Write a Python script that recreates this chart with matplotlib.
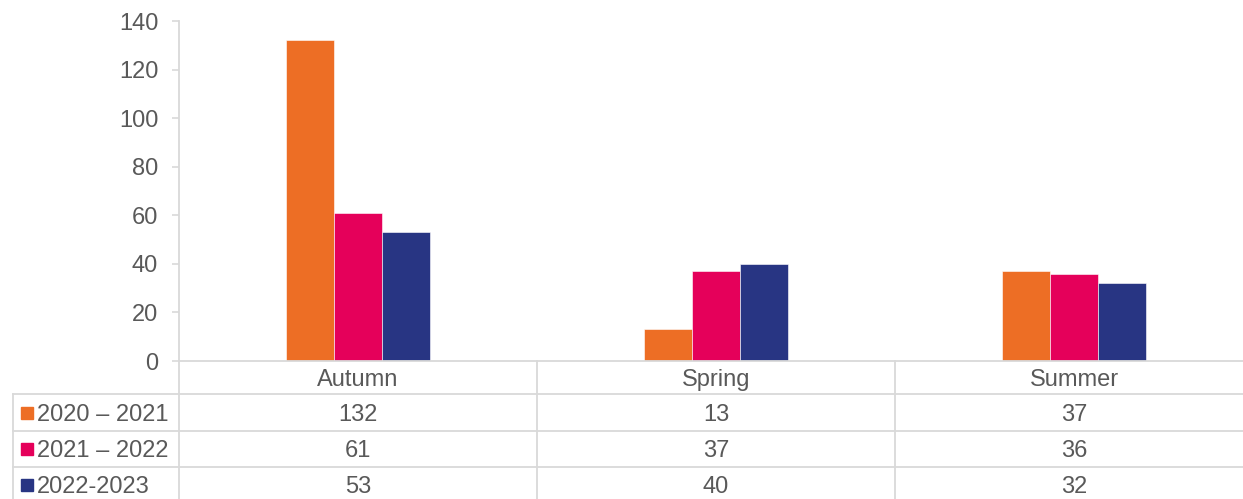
import numpy as np
import matplotlib.pyplot as plt
from matplotlib.patches import Rectangle
from matplotlib.lines import Line2D
from matplotlib.transforms import blended_transform_factory

categories = ["Autumn", "Spring", "Summer"]
series_names = ["2020 \u2013 2021", "2021 \u2013 2022", "2022-2023"]
values_2020 = [132, 13, 37]
values_2021 = [61, 37, 36]
values_2022 = [53, 40, 32]
colors = ["#ED6E25", "#E5005A", "#283583"]

series = [values_2020, values_2021, values_2022]

plt.rcParams['font.family'] = ['Liberation Sans', 'DejaVu Sans']
text_color = "#595959"
line_color = "#D9D9D9"
fs = 17

W, H = 1243, 499
fig = plt.figure(figsize=(W / 100, H / 100), dpi=100)

def fx(px):
    return px / W

def fy(py):
    return 1 - py / H

ax_left, ax_right, ax_top, ax_bottom = 179, 1253, 21, 361
ax = fig.add_axes([fx(ax_left), fy(ax_bottom), fx(ax_right - ax_left), (ax_bottom - ax_top) / H])

x = np.arange(len(categories))
width = 0.134
for i, vals in enumerate(series):
    ax.bar(x + (i - 1) * width, vals, width, color=colors[i],
           edgecolor="white", linewidth=0.4, zorder=2)

ax.set_xlim(-0.5, len(categories) - 0.5)
ax.set_ylim(0, 140)
ax.set_yticks(range(0, 141, 20))
ax.tick_params(axis='y', length=5, width=1.2, color=line_color, pad=10,
               labelsize=fs, labelcolor=text_color)
ax.tick_params(axis='x', bottom=False, labelbottom=False)
for s in ["top", "right"]:
    ax.spines[s].set_visible(False)
for s in ["left", "bottom"]:
    ax.spines[s].set_color(line_color)
    ax.spines[s].set_linewidth(1.3)
ax.spines["bottom"].set_zorder(3)

# data table under the axis
tr = blended_transform_factory(ax.transData, fig.transFigure)
row_lines = [394, 431, 467]
row_centers = [380, 415, 451, 487]
table_left = 13

for py in row_lines:
    fig.add_artist(Line2D([fx(table_left), 1], [fy(py), fy(py)],
                          transform=fig.transFigure, color=line_color, lw=1.3))
fig.add_artist(Line2D([fx(table_left), fx(table_left)], [fy(row_lines[0]), 0],
                      transform=fig.transFigure, color=line_color, lw=1.3))
for xv in np.arange(len(categories)) - 0.5:
    fig.add_artist(Line2D([xv, xv], [fy(ax_bottom), 0], transform=tr,
                          color=line_color, lw=1.3))

for j, cat in enumerate(categories):
    fig.text(j, fy(row_centers[0]), cat, transform=tr, ha="center", va="center",
             fontsize=fs, color=text_color)
for i, vals in enumerate(series):
    cy = fy(row_centers[i + 1])
    for j, v in enumerate(vals):
        fig.text(j, cy, str(v), transform=tr, ha="center", va="center",
                 fontsize=fs, color=text_color)
    fig.add_artist(Rectangle((fx(21), cy - 4 / H), 12 / W, 12 / H,
                             transform=fig.transFigure, color=colors[i]))
    fig.text(fx(37), cy, series_names[i], ha="left", va="center",
             fontsize=fs, color=text_color)

fig.savefig("out.png", dpi=100)
